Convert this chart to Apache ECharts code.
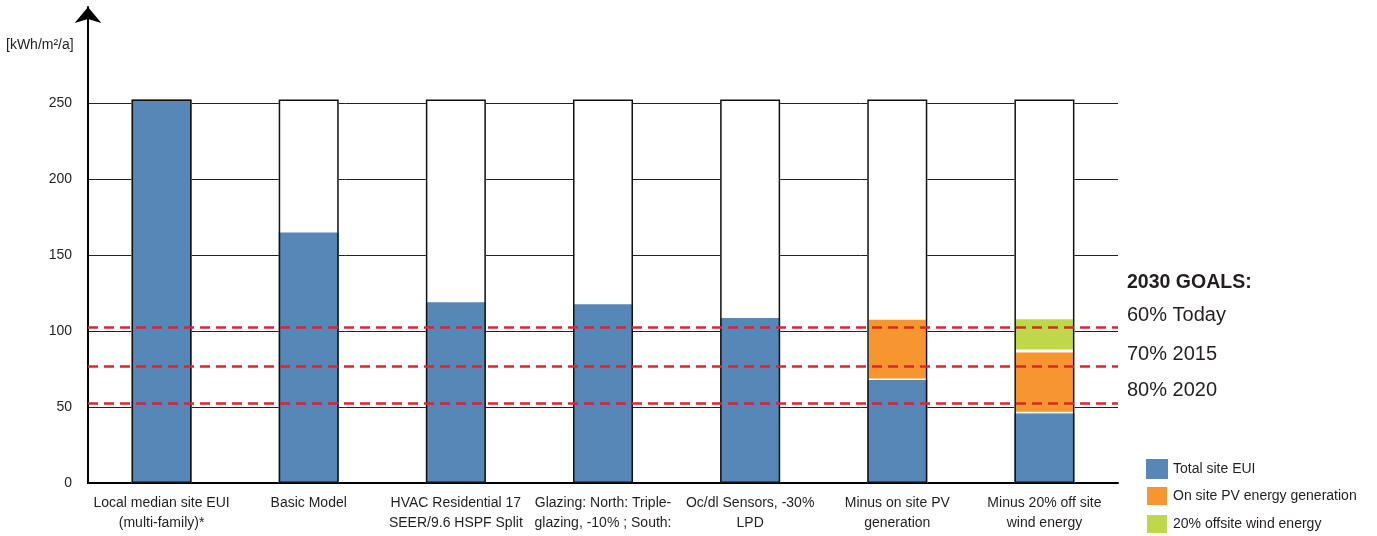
<!DOCTYPE html>
<html>
<head>
<meta charset="utf-8">
<script src="https://cdn.jsdelivr.net/npm/echarts@6/dist/echarts.min.js"></script>
<style>
html,body{margin:0;padding:0;background:#fff;}
#chart{width:1377px;height:536px;}
</style>
</head>
<body>
<div id="chart"></div>
<script>
var categories = [
  'Local median site EUI\n(multi-family)*',
  'Basic Model',
  'HVAC Residential 17\nSEER/9.6 HSPF Split',
  'Glazing: North: Triple-\nglazing, -10% ; South:',
  'Oc/dl Sensors, -30%\nLPD',
  'Minus on site PV\ngeneration',
  'Minus 20% off site\nwind energy'
];
var frameValues = [252.3, 252.3, 252.3, 252.3, 252.3, 252.3, 252.3];
var totalSiteEUI = [252.3, 164.9, 118.9, 117.6, 108.6, 67.8, 45.9];
var onSitePV = [null, null, null, null, null, 40.6, 40.9];
var offsiteWind = [null, null, null, null, null, null, 21.9];
var goalLines = [102.6, 77, 52.2];
var goalTexts = ['60% Today', '70% 2015', '80% 2020'];

var FONT = '"Liberation Sans", Arial, sans-serif';
var TXT = '#231f20';
var chart = echarts.init(document.getElementById('chart'));

var option = {
  animation: false,
  backgroundColor: '#fff',
  textStyle: { fontFamily: FONT },
  grid: [
    { left: 88, right: 259, top: 94, bottom: 53 },
    { left: 88, right: 259, top: 7, bottom: 53 }
  ],
  legend: {
    orient: 'vertical',
    left: 1145,
    top: 459,
    padding: 0,
    itemWidth: 22,
    itemHeight: 20,
    itemGap: 6,
    icon: 'rect',
    data: ['Total site EUI', 'On site PV energy generation', '20% offsite wind energy'],
    textStyle: { fontFamily: FONT, fontSize: 14, color: TXT, padding: [0, 0, 0, 0] }
  },
  xAxis: [
    {
      type: 'category',
      gridIndex: 0,
      data: categories,
      axisLine: { show: true, lineStyle: { color: '#000', width: 2 } },
      axisTick: { show: false },
      axisLabel: { interval: 0, color: TXT, fontSize: 14, fontFamily: FONT, lineHeight: 20, margin: 10 }
    },
    { type: 'value', gridIndex: 1, show: false, min: 0, max: 1 }
  ],
  yAxis: [
    {
      type: 'value',
      gridIndex: 0,
      min: 0,
      max: 256,
      interval: 50,
      axisLine: { show: false },
      axisTick: { show: false },
      axisLabel: { color: TXT, fontSize: 14, fontFamily: FONT, margin: 16, showMaxLabel: false },
      splitLine: { show: true, showMaxLine: false, lineStyle: { color: '#222', width: 1 } }
    },
    {
      type: 'value',
      gridIndex: 1,
      min: 0,
      max: 1,
      axisLine: { show: true, symbol: ['none', 'arrow'], symbolSize: [20, 16], lineStyle: { color: '#000', width: 2 } },
      axisTick: { show: false },
      axisLabel: { show: false },
      splitLine: { show: false }
    }
  ],
  graphic: [
    { type: 'text', left: 6, top: 38, style: { text: '[kWh/m²/a]', font: '14px ' + FONT, fill: TXT } },
    { type: 'text', left: 1127, top: 273, style: { text: '2030 GOALS:', font: 'bold 19.5px ' + FONT, fill: TXT } },
    { type: 'text', left: 1127, top: 305, style: { text: goalTexts[0], font: '20px ' + FONT, fill: TXT } },
    { type: 'text', left: 1127, top: 344, style: { text: goalTexts[1], font: '20px ' + FONT, fill: TXT } },
    { type: 'text', left: 1127, top: 380, style: { text: goalTexts[2], font: '20px ' + FONT, fill: TXT } }
  ],
  series: [
    {
      name: 'frameBg', type: 'bar', xAxisIndex: 0, yAxisIndex: 0,
      data: frameValues, barWidth: 60, barGap: '-100%', z: 2,
      itemStyle: { color: '#fff' }, silent: true
    },
    {
      name: 'Total site EUI', type: 'bar', stack: 'a', data: totalSiteEUI,
      barWidth: 60, barGap: '-100%', z: 3,
      itemStyle: { color: '#5687b7' }
    },
    {
      name: 'On site PV energy generation', type: 'bar', stack: 'a', data: onSitePV,
      barWidth: 60, barGap: '-100%', z: 3,
      itemStyle: { color: '#f7952e', borderColor: '#fff', borderWidth: 1.5 }
    },
    {
      name: '20% offsite wind energy', type: 'bar', stack: 'a', data: offsiteWind,
      barWidth: 60, barGap: '-100%', z: 3,
      itemStyle: { color: '#bfd84a', borderColor: '#fff', borderWidth: 1.5 }
    },
    {
      name: 'frameLine', type: 'bar', data: frameValues,
      barWidth: 60, barGap: '-100%', z: 4, silent: true,
      itemStyle: { color: 'rgba(0,0,0,0)', borderColor: '#111', borderWidth: 1.5 },
      markLine: {
        silent: true,
        symbol: ['none', 'none'],
        label: { show: false },
        lineStyle: { color: '#d9272e', width: 2.5, type: [10, 6] },
        data: goalLines.map(function (v) { return { yAxis: v }; })
      }
    }
  ]
};
chart.setOption(option);
</script>
</body>
</html>
